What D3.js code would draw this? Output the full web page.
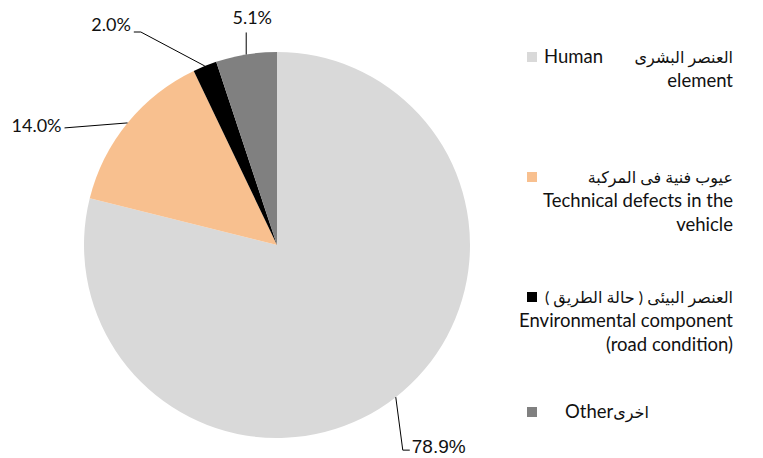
<!DOCTYPE html>
<html>
<head>
<meta charset="utf-8">
<script src="https://cdn.jsdelivr.net/npm/d3@7"></script>
<style>
  body { margin: 0; background: #fff; }
  svg { display: block; }
  text { font-family: Lato, 'DejaVu Sans', sans-serif; fill: #111; }
</style>
</head>
<body>
<script>
// DATA
const categories = ['Human element', 'Technical defects in the vehicle', 'Environmental component (road condition)', 'Other']
const values = [78.9, 14.0, 2.0, 5.1]
const valueLabels = ['78.9%', '14.0%', '2.0%', '5.1%']
const arabicNames = ['العنصر البشرى', 'عيوب فنية فى المركبة', 'العنصر البيئى ( حالة الطريق )', 'اخرى']
const englishLines = [['Human', 'element'], ['Technical defects in the', 'vehicle'], ['Environmental component', '(road condition)'], ['Other']]
const colors = ['#d9d9d9', '#f8c08f', '#000000', '#808080']

// CANVAS
const fullWidth = 763
const fullHeight = 458
const cx = 277
const cy = 245
const radius = 193

const svg = d3.select('body').append('svg')
  .attr('width', fullWidth)
  .attr('height', fullHeight)

const rows = categories.map((c, i) => ({ name: c, value: values[i], label: valueLabels[i] }))

const pie = d3.pie().sort(null).value(d => d.value)
const arc = d3.arc().innerRadius(0).outerRadius(radius)
const arcs = pie(rows)

const color = d3.scaleOrdinal().domain(categories).range(colors)

const g = svg.append('g').attr('transform', `translate(${cx},${cy})`)

g.selectAll('path')
  .data(arcs)
  .enter()
  .append('path')
  .attr('d', arc)
  .attr('fill', d => color(d.data.name))

/*
DATA LABELS + LEADER LINES
leader lines run from the slice edge (mid angle) through an elbow to the label
*/
const edge = d => {
  const a = (d.startAngle + d.endAngle) / 2
  return [Math.sin(a) * radius, -Math.cos(a) * radius]
}
// elbow / end offsets relative to the slice edge point, and text anchor
const labelLayout = [
  { elbow: [7, 53], end: [14, 53], text: [16, 56], anchor: 'start', font: "'Liberation Sans', Arial, sans-serif", size: 19 },
  { elbow: [-63, 5], end: [-63, 5], text: [-66, 9], anchor: 'end', font: 'Lato, sans-serif', size: 18 },
  { elbow: [-64, -34], end: [-71, -34], text: [-74, -35], anchor: 'end', font: 'Lato, sans-serif', size: 18 },
  { elbow: [0, -22], end: [0, -22], text: [6, -30], anchor: 'middle', font: 'Lato, sans-serif', size: 18 }
]

arcs.forEach((d, i) => {
  const p = edge(d)
  const l = labelLayout[i]
  const pts = [p, [p[0] + l.elbow[0], p[1] + l.elbow[1]], [p[0] + l.end[0], p[1] + l.end[1]]]
  g.append('path')
    .attr('d', d3.line()(pts))
    .attr('fill', 'none')
    .attr('stroke', '#000')
    .attr('stroke-width', 1)
  g.append('text')
    .attr('x', p[0] + l.text[0])
    .attr('y', p[1] + l.text[1])
    .attr('text-anchor', l.anchor)
    .style('font-family', l.font)
    .style('font-size', l.size + 'px')
    .text(d.data.label)
})

/*
LEGEND
*/
const legendX = 527
const textRight = 733
const lineH = 24
const firstBaselines = [63, 183, 303, 418]

const legend = svg.append('g')

categories.forEach((c, i) => {
  const y0 = firstBaselines[i]
  legend.append('rect')
    .attr('x', legendX)
    .attr('y', y0 - 11)
    .attr('width', 10)
    .attr('height', 10)
    .attr('fill', color(c))

  if (i === 3) {
    // "Other" followed by arabic on the same line
    const t = legend.append('text')
      .attr('x', 565)
      .attr('y', y0)
      .style('font-size', '18.5px')
      .text(englishLines[i][0])
    const w = t.node().getComputedTextLength()
    legend.append('text')
      .attr('x', 565 + w)
      .attr('y', y0)
      .attr('direction', 'rtl')
      .attr('text-anchor', 'end')
      .style('font-size', '16px')
      .text(arabicNames[i])
    return
  }

  legend.append('text')
    .attr('x', textRight)
    .attr('y', y0)
    .attr('direction', 'rtl')
    .attr('text-anchor', 'start')
    .style('font-size', '16px')
    .text(arabicNames[i])

  let eng = englishLines[i]
  if (i === 0) {
    legend.append('text')
      .attr('x', 544)
      .attr('y', y0)
      .style('font-size', '18.5px')
      .text(eng[0])
    eng = eng.slice(1)
  }
  eng.forEach((line, j) => {
    legend.append('text')
      .attr('x', textRight)
      .attr('y', y0 + lineH * (j + 1))
      .attr('text-anchor', 'end')
      .style('font-size', '18.5px')
      .text(line)
  })
})
</script>
</body>
</html>
